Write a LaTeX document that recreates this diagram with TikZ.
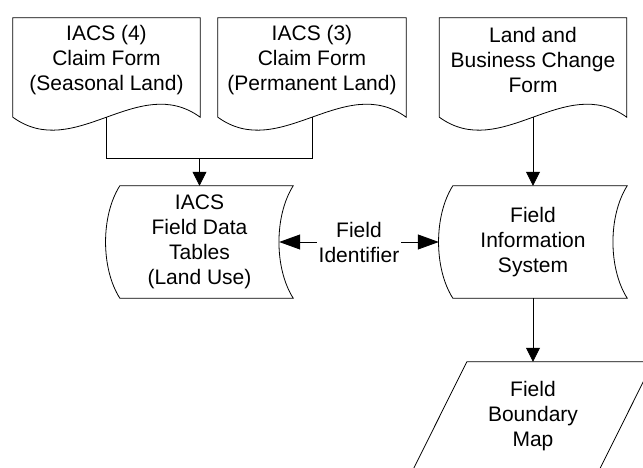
\documentclass[tikz,border=0pt]{standalone}
\usepackage{fontspec}
\setmainfont{Liberation Sans}
\usetikzlibrary{arrows.meta}

\begin{document}
\begin{tikzpicture}[x=1pt,y=1pt,
  every node/.style={font=\fontsize{21}{25}\selectfont, align=center, inner sep=2pt},
  docbox/.style={minimum width=187pt, minimum height=84pt},
  storebox/.style={minimum width=187pt, minimum height=112pt},
  line/.style={line width=0.8pt},
  arrow/.style={line, -{Triangle[length=14pt,width=14pt]}},
  sidearrow/.style={line, -{Triangle[length=21pt,width=15pt]}}]
\useasboundingbox (0,0) rectangle (643,468);
% Three forms along the top
\node [docbox] (seasonal) at (106.5,408) {IACS (4)\\Claim Form\\(Seasonal Land)};
\node [docbox, minimum width=188pt] (permanent) at (312,408) {IACS (3)\\Claim Form\\(Permanent Land)};
\node [docbox] (change) at (533,408) {Land and\\Business Change\\Form};
% Stored data in the middle row
\node [storebox] (tables) at (199.5,226) {IACS\\Field Data\\Tables\\(Land Use)};
\node [storebox, minimum width=188pt] (fis) at (533,226) {Field\\Information\\System};
\node (fid) at (359,226) {Field\\Identifier};
% Map at the bottom, runs off the page
\node [minimum width=186pt, minimum height=108pt] (map) at (533,52) {Field\\Boundary\\Map};
% Outline of the forms, wavy bottom edge
\foreach \f in {seasonal,permanent,change}
  \draw [line] (\f.north west) -- (\f.north east) -- ([yshift=-15pt]\f.south east)
    .. controls +(-62pt,45pt) and +(62pt,-45pt) .. ([yshift=-15pt]\f.south west) -- cycle;
% Outline of the stored data, curved sides
\foreach \s in {tables,fis}
  \draw [line] ([xshift=14pt]\s.north west) -- (\s.north east)
    .. controls +(-19pt,-30pt) and +(-19pt,30pt) .. (\s.south east)
    -- ([xshift=14pt]\s.south west)
    .. controls +(-19pt,30pt) and +(-19pt,-30pt) .. ([xshift=14pt]\s.north west) -- cycle;
% Parallelogram of the map
\draw [line] ([xshift=27pt]map.north west) -- ([xshift=27pt]map.north east)
  -- ([xshift=-27pt]map.south east) -- ([xshift=-27pt]map.south west) -- cycle;
% Forms join before the tables
\coordinate (merge) at (199.5,310);
\draw [line] ([yshift=-15pt]seasonal.south) |- (merge);
\draw [line] ([yshift=-15pt]permanent.south) |- (merge);
\draw [arrow] (merge) -- (tables.north);
\draw [arrow] ([yshift=-15pt]change.south) -- (fis.north);
\draw [arrow] (fis.south) -- (map.north);
% Field identifier links both sides
\draw [sidearrow] (fid.west) -- ([xshift=-14pt]tables.east);
\draw [sidearrow] (fid.east) -- (fis.west);
\end{tikzpicture}
\end{document}
